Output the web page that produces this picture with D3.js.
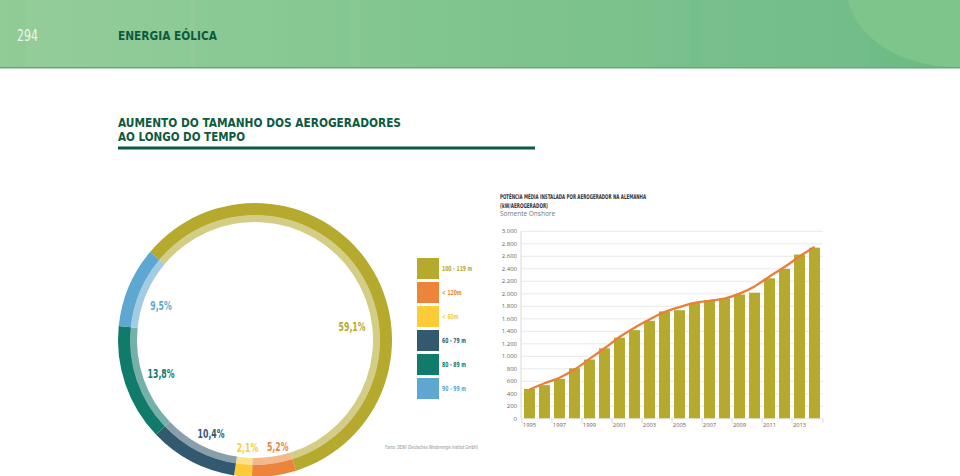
<!DOCTYPE html>
<html><head><meta charset="utf-8">
<script src="https://cdn.jsdelivr.net/npm/d3@7"></script>
<style>
html,body{margin:0;padding:0;background:#fff;}
svg{display:block;}
</style></head>
<body>
<script>
// ---------- DATA ----------
const pieCategories = ["100 - 119 m", "< 120m", "< 60m", "60 - 79 m", "80 - 89 m", "90 - 99 m"];
const pieValues = [59.1, 5.2, 2.1, 10.4, 13.8, 9.5];
const pieLabels = ["59,1%", "5,2%", "2,1%", "10,4%", "13,8%", "9,5%"];
const pieColors = ["#b5a92e", "#ec853b", "#fccb38", "#33596f", "#107b6b", "#5ea7d1"];

const years = [1995,1996,1997,1998,1999,2000,2001,2002,2003,2004,2005,2006,2007,2008,2009,2010,2011,2012,2013,2014];
const barValues = [470,530,630,800,940,1120,1290,1410,1560,1710,1730,1850,1890,1920,1980,2010,2240,2390,2620,2730];
const lineValues = [460,560,650,780,950,1120,1300,1450,1580,1700,1780,1845,1880,1915,1995,2110,2270,2420,2590,2740];
const yTicks = [0,200,400,600,800,1000,1200,1400,1600,1800,2000,2200,2400,2600,2800,3000];
const xTickLabels = [1995,1997,1999,2001,2003,2005,2007,2009,2011,2013];

// ---------- LAYOUT ----------
const W = 960, H = 476;
const svg = d3.select("body").append("svg").attr("width", W).attr("height", H);
const narrow = "'Liberation Sans Narrow','DejaVu Sans Condensed','Roboto',sans-serif";
const darkGreen = "#0d5a41";

// compress text horizontally to a target width
function fitWidth(sel, w) {
  sel.attr("textLength", w).attr("lengthAdjust", "spacingAndGlyphs");
  return sel;
}
function condense(sel, f) {
  sel.each(function(){ const l = this.getComputedTextLength(); d3.select(this).attr("textLength", l*f).attr("lengthAdjust","spacingAndGlyphs"); });
  return sel;
}

// header band
const defs = svg.append("defs");
const g1 = defs.append("linearGradient").attr("id","hdr").attr("x1","0").attr("x2","1").attr("y1","0").attr("y2","0");
g1.append("stop").attr("offset","0%").attr("stop-color","#91cb96");
g1.append("stop").attr("offset","45%").attr("stop-color","#7dc48c");
g1.append("stop").attr("offset","100%").attr("stop-color","#6cba86");
svg.append("rect").attr("x",0).attr("y",0).attr("width",W).attr("height",68).attr("fill","url(#hdr)");
[[25,0.04],[190,0.035],[350,0.03],[520,0.03],[700,0.025]].forEach(([x,o])=>{
  svg.append("rect").attr("x",x).attr("y",0).attr("width",170).attr("height",68).attr("fill","#ffffff").attr("opacity",o);
});
svg.append("path").attr("d","M848,0 C858,40 900,66 960,68 L960,0 Z").attr("fill","#7dc58a");
svg.append("rect").attr("x",0).attr("y",67).attr("width",W).attr("height",1.5).attr("fill","#62a97a");

fitWidth(svg.append("text").attr("x",17).attr("y",41).text("294")
  .attr("font-family","'DejaVu Sans Condensed',sans-serif").attr("font-weight",200).attr("font-size",15)
  .attr("fill","#eef7ec"), 21);
fitWidth(svg.append("text").attr("x",118).attr("y",39.5).text("ENERGIA EÓLICA")
  .attr("font-family",narrow).attr("font-weight","bold").attr("font-size",12.5).attr("fill",darkGreen), 99);

// title
fitWidth(svg.append("text").attr("x",118).attr("y",127).text("AUMENTO DO TAMANHO DOS AEROGERADORES")
  .attr("font-family",narrow).attr("font-weight","bold").attr("font-size",12.5).attr("fill",darkGreen), 283);
fitWidth(svg.append("text").attr("x",118).attr("y",141).text("AO LONGO DO TEMPO")
  .attr("font-family",narrow).attr("font-weight","bold").attr("font-size",12.5).attr("fill",darkGreen), 127);
svg.append("rect").attr("x",118).attr("y",146.5).attr("width",417).attr("height",3).attr("fill",darkGreen);

// ---------- DONUT ----------
const cx = 255, cy = 340;
const pie = d3.pie().sort(null).startAngle(-50*Math.PI/180).endAngle(310*Math.PI/180);
const arcs = pie(pieValues);
const outerArc = d3.arc().innerRadius(124.5).outerRadius(137);
const innerArc = d3.arc().innerRadius(118).outerRadius(125);
const gd = svg.append("g").attr("transform",`translate(${cx},${cy})`);
gd.selectAll("path.o").data(arcs).join("path").attr("class","o").attr("d",outerArc).attr("fill",(d,i)=>pieColors[i]);
gd.selectAll("path.i").data(arcs).join("path").attr("class","i").attr("d",innerArc)
  .attr("fill",(d,i)=>d3.interpolateRgb(pieColors[i],"#ffffff")(0.42));
// label layout (angle deg clockwise from top, radius)
const labelLayout = [[82,98],[168,109],[184,108],[205,104],[250,100],[290,100]];
const lbls = gd.selectAll("text.lbl").data(arcs).join("text").attr("class","lbl")
  .attr("x",(d,i)=>labelLayout[i][1]*Math.sin(labelLayout[i][0]*Math.PI/180))
  .attr("y",(d,i)=>-labelLayout[i][1]*Math.cos(labelLayout[i][0]*Math.PI/180))
  .attr("dy","0.35em").attr("text-anchor","middle")
  .attr("font-family",narrow).attr("font-weight","bold").attr("font-size",12)
  .attr("fill",(d,i)=>pieColors[i]).text((d,i)=>pieLabels[i]);
condense(lbls, 0.72);

// legend
const lg = svg.append("g");
pieCategories.forEach((c,i)=>{
  const y = 258 + i*24;
  lg.append("rect").attr("x",417).attr("y",y).attr("width",22).attr("height",21).attr("fill",pieColors[i]);
  condense(lg.append("text").attr("x",442).attr("y",y+10.5).attr("dy","0.35em").text(c)
    .attr("font-family",narrow).attr("font-weight","bold").attr("font-size",7).attr("fill",pieColors[i]), 0.72);
});

fitWidth(svg.append("text").attr("x",385).attr("y",449).text("Fonte: DEWI (Deutsches Windenergie Institut GmbH)")
  .attr("font-family",narrow).attr("font-size",5.5).attr("fill","#888"), 93);

// ---------- BAR CHART ----------
const x = d3.scaleBand().domain(years).range([521,823]).paddingInner(0.27).paddingOuter(0.2);
const y = d3.scaleLinear().domain([0,3000]).range([418.3,230.8]);

fitWidth(svg.append("text").attr("x",500).attr("y",199).text("POTÊNCIA MÉDIA INSTALADA POR AEROGERADOR NA ALEMANHA")
  .attr("font-family",narrow).attr("font-weight","bold").attr("font-size",6.5).attr("fill","#333"), 146);
fitWidth(svg.append("text").attr("x",500).attr("y",207.5).text("(kW/AEROGERADOR)")
  .attr("font-family",narrow).attr("font-weight","bold").attr("font-size",6.5).attr("fill","#333"), 48);
svg.append("text").attr("x",500).attr("y",216).text("Somente Onshore")
  .attr("font-family","'Open Sans',sans-serif").attr("font-size",6.5).attr("fill","#777");

// gridlines + y labels
const gy = svg.append("g").attr("transform","translate(521,0)")
  .call(d3.axisLeft(y).tickValues(yTicks).tickSize(-302).tickPadding(4)
    .tickFormat(v=>d3.format(",")(v).replace(/,/g,".")));
gy.select(".domain").attr("stroke","#d8d8d8").attr("d","M0,230.8V418.3");
gy.selectAll(".tick line").attr("stroke","#e3e3e3").attr("stroke-width",0.8);
gy.selectAll(".tick text").attr("font-family","'Open Sans',sans-serif").attr("font-size",6).attr("fill","#666");

// bars
svg.append("g").selectAll("rect").data(years).join("rect")
  .attr("x",d=>x(d)).attr("width",x.bandwidth())
  .attr("y",(d,i)=>y(barValues[i])).attr("height",(d,i)=>y(0)-y(barValues[i]))
  .attr("fill","#b5a92e");

// x axis
const step = x.step();
const gx = svg.append("g").attr("transform","translate(0,418.3)");
xTickLabels.forEach(yr=>{
  const xl = x(yr) - step*x.paddingInner()/2;
  gx.append("line").attr("x1",xl).attr("x2",xl).attr("y1",0).attr("y2",5).attr("stroke","#d0d0d0").attr("stroke-width",0.8);
  gx.append("text").attr("x",x(yr)+x.bandwidth()/2).attr("y",8.5).attr("text-anchor","middle")
    .text(yr).attr("font-family","'Open Sans',sans-serif").attr("font-size",5.8).attr("fill","#666");
});
gx.append("line").attr("x1",823).attr("x2",823).attr("y1",0).attr("y2",5).attr("stroke","#d0d0d0").attr("stroke-width",0.8);

// line
const line = d3.line().x((d,i)=>x(years[i])+x.bandwidth()/2).y(d=>y(d)).curve(d3.curveMonotoneX);
svg.append("path").datum(lineValues).attr("d",line).attr("fill","none")
  .attr("stroke","#e8803a").attr("stroke-width",2.3);
</script>
</body></html>
